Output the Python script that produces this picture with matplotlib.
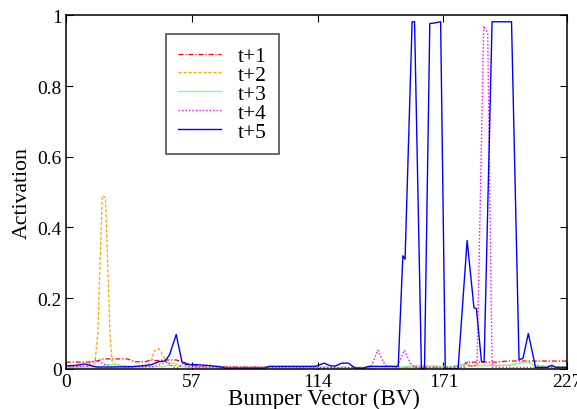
import matplotlib
matplotlib.use("Agg")
import matplotlib.pyplot as plt

plt.rcParams['font.family'] = ['Liberation Serif', 'DejaVu Serif']

# t+1 (dash-dot, red)
x1 = [0, 10, 14, 17, 28, 31, 36, 39, 41, 45, 50, 53, 57, 62, 65, 67, 100, 150, 175, 180, 183, 195, 200, 227]
y1 = [0.019, 0.019, 0.022, 0.028, 0.028, 0.02, 0.02, 0.026, 0.023, 0.025, 0.025, 0.02, 0.01, 0.006, 0.012, 0.006,
      0.004, 0.004, 0.006, 0.012, 0.019, 0.019, 0.022, 0.022]

# t+2 (dashed, orange)
x2 = [0, 13, 14.5, 16.5, 18, 20, 21, 23, 36, 38.5, 40, 41.8, 43, 45, 47, 60, 180, 185, 200, 205, 209, 212, 227]
y2 = [0.005, 0.008, 0.1, 0.49, 0.485, 0.1, 0.02, 0.01, 0.005, 0.02, 0.05, 0.058, 0.05, 0.025, 0.01, 0.003,
      0.003, 0.01, 0.01, 0.015, 0.02, 0.01, 0.005]

# t+3 (solid, light green)
x3 = [0, 15, 19, 24, 27, 45, 48, 51, 55, 150, 160, 175, 180, 185, 200, 209, 213, 227]
y3 = [0.004, 0.005, 0.012, 0.012, 0.004, 0.006, 0.018, 0.01, 0.004, 0.004, 0.01, 0.006, 0.012, 0.008, 0.01,
      0.02, 0.006, 0.004]

# t+4 (dotted, magenta)
x4 = [0, 10, 13, 15, 20, 40, 46, 49, 51, 53, 56, 138, 141.3, 144.5, 150, 153.3, 156.5, 160, 180, 181.5, 183,
      186.2, 189.2, 191, 193, 200, 227]
y4 = [0.005, 0.008, 0.025, 0.02, 0.006, 0.006, 0.02, 0.003, 0.003, 0.015, 0.005, 0.003, 0.053, 0.01, 0.003,
      0.053, 0.01, 0.003, 0.005, 0.022, 0.006, 0.01, 0.97, 0.95, 0.005, 0.004, 0.004]

# t+5 (solid, blue)
x5 = [0, 5, 8.5, 12, 14, 20, 30, 37, 39, 42, 45, 47, 50, 52.6, 54.5, 59, 70, 72, 90, 92,
      113, 117, 120, 122, 125, 128, 131, 135, 137, 150.5, 152.6, 153.6, 156.8, 157.9, 161, 162.4, 164.8, 166.5,
      169.7, 171.8, 177.6, 181.7, 184.8, 185.9, 188.2, 189.4, 193, 201.8, 205.2, 207, 209.4, 212.7, 218, 220,
      222, 227]
y5 = [0.008, 0.01, 0.014, 0.008, 0.005, 0.005, 0.006, 0.01, 0.012, 0.02, 0.022, 0.04, 0.097, 0.02, 0.012,
      0.012, 0.006, 0.002, 0.002, 0.007, 0.007, 0.016, 0.008, 0.008, 0.016, 0.016, 0.002, 0.002, 0.007, 0.007,
      0.32, 0.31, 0.982, 0.982, 0.0, 0.0, 0.977, 0.978, 0.982, 0.0, 0.0, 0.363, 0.173, 0.17, 0.02, 0.02,
      0.982, 0.982, 0.025, 0.03, 0.1, 0.004, 0.004, 0.01, 0.004, 0.004]

labels = ["t+1", "t+2", "t+3", "t+4", "t+5"]
xticks = [0, 57, 114, 171, 227]
yticks = [0, 0.2, 0.4, 0.6, 0.8, 1]
ytick_labels = ["0", "0.2", "0.4", "0.6", "0.8", "1"]

fig = plt.figure(figsize=(5.77, 4.10), dpi=100)
ax = fig.add_axes([0.114, 0.098, 0.869, 0.862])

ax.plot(x1, y1, color="red", linestyle=(0, (4, 1.5, 1, 1.5)), linewidth=0.9, label=labels[0])
ax.plot(x2, y2, color="#ffa500", linestyle=(0, (2.5, 1.5)), linewidth=0.9, label=labels[1])
ax.plot(x3, y3, color="#80ff80", linestyle="-", linewidth=0.9, label=labels[2])
ax.plot(x4, y4, color="#ff00ff", linestyle=(0, (1, 1.5)), linewidth=1.0, label=labels[3])
ax.plot(x5, y5, color="#0000ff", linestyle="-", linewidth=1.0, label=labels[4])

ax.set_xlim(0, 227)
ax.set_ylim(0, 1)
ax.set_xticks(xticks)
ax.set_yticks(yticks)
ax.set_yticklabels(ytick_labels)
ax.tick_params(direction="in", top=True, right=True, labelsize=14, length=5, width=0.8, pad=3)
for s in ax.spines.values():
    s.set_linewidth(1.1)

ax.set_xlabel("Bumper Vector (BV)", fontsize=16.5)
ax.xaxis.set_label_coords(0.515, -0.055)
ax.set_ylabel("Activation", fontsize=15.7, labelpad=4)

leg = ax.legend(loc="upper left", bbox_to_anchor=(0.1996, 0.947), borderaxespad=0, fontsize=15.5,
                frameon=True, fancybox=False, edgecolor="#404040", framealpha=1, handlelength=2.0,
                handletextpad=0.8, labelspacing=-0.05, borderpad=0.55)
leg.get_frame().set_linewidth(1.1)

fig.savefig("out.png", dpi=100)
